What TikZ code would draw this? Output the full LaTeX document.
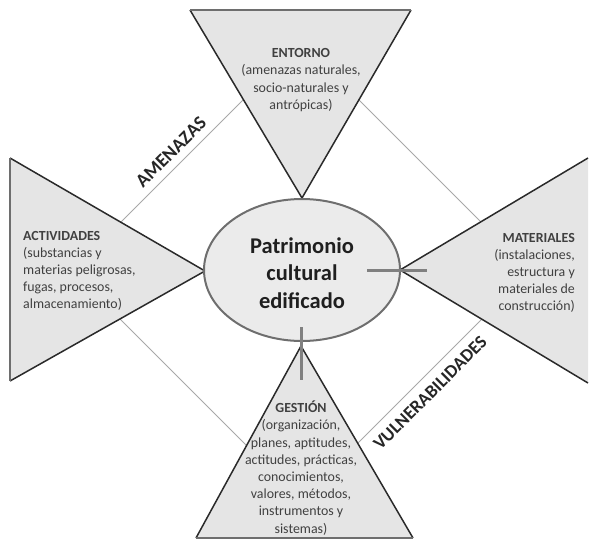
\documentclass[tikz,border=0pt]{standalone}
\usepackage{fontspec}
\setmainfont{Carlito}
\usetikzlibrary{shapes.geometric}
\definecolor{trifill}{HTML}{E5E5E5}
\definecolor{ellfill}{HTML}{EBEBEB}
\definecolor{triedge}{HTML}{2A2A2A}
\definecolor{elledge}{HTML}{6E6E6E}
\definecolor{tickcol}{HTML}{808080}
\definecolor{diacol}{HTML}{A8A8A8}
\definecolor{bodytext}{HTML}{404040}
\tikzset{
  body/.style={text=bodytext, font=\fontsize{13.9}{17.2}\selectfont, inner sep=0pt},
  axislabel/.style={text=black!85, font=\bfseries\fontsize{19}{22}\selectfont, rotate=45, inner sep=0pt},
  tickline/.style={draw=tickcol, line width=3pt},
  dia/.style={draw=diacol, line width=0.9pt},
  slant/.style={draw=triedge, line width=1.5pt},
  flat/.style={draw=elledge, line width=1.5pt}
}
\begin{document}
\begin{tikzpicture}[x=1pt,y=-1pt]
\useasboundingbox (0,0) rectangle (590,539);
% diamond of thin lines
\coordinate (dN) at (301,42);
\coordinate (dW) at (72,271);
\coordinate (dE) at (530,271);
\coordinate (dS) at (301,500);
\draw[dia] (dN) -- (dE) -- (dS) -- (dW) -- cycle;
% triangles
\coordinate (tA) at (190,10); \coordinate (tB) at (411,10); \coordinate (tC) at (302,198);
\coordinate (lA) at (10,158); \coordinate (lB) at (10,381); \coordinate (lC) at (205,271);
\coordinate (rA) at (588,158); \coordinate (rB) at (588,383); \coordinate (rC) at (400,270);
\coordinate (bA) at (301,346); \coordinate (bB) at (196,538); \coordinate (bC) at (413,538);
\fill[trifill] (tA) -- (tB) -- (tC) -- cycle;
\draw[slant] (tB) -- (tC) -- (tA);
\draw[flat] (tA) -- (tB);
\fill[trifill] (lA) -- (lB) -- (lC) -- cycle;
\draw[slant] (lB) -- (lC) -- (lA);
\draw[flat] (lA) -- (lB);
\fill[trifill] (rA) -- (rB) -- (rC) -- cycle;
\draw[slant] (rA) -- (rC) -- (rB);
\fill[trifill] (bA) -- (bB) -- (bC) -- cycle;
\draw[slant] (bB) -- (bA) -- (bC);
\draw[flat] (bB) -- (bC);
% ellipse
\node[ellipse, fill=ellfill, draw=elledge, line width=2pt, minimum width=196pt, minimum height=142pt, inner sep=0pt] (core) at (302,270) {};
\node[font=\bfseries\fontsize{22.5}{27.5}\selectfont, text=black!88, align=center, inner sep=0pt] (coretext) at (302,273) {Patrimonio\\cultural\\edificado};
% ticks
\coordinate (hA) at (367,270); \coordinate (hB) at (427,270);
\coordinate (vA) at (301,327); \coordinate (vB) at (301,380);
\draw[tickline] (hA) -- (hB);
\draw[tickline] (vA) -- (vB);
% texts
\node[body, align=center] (entorno) at (301,80) {\textbf{ENTORNO}\\(amenazas naturales,\\socio-naturales y\\antrópicas)};
\node[body, align=left, anchor=west] (actividades) at (23,271) {\textbf{ACTIVIDADES}\\(substancias y\\materias peligrosas,\\fugas, procesos,\\almacenamiento)};
\node[body, align=right, anchor=east] (materiales) at (575,273) {\textbf{MATERIALES}\\(instalaciones,\\estructura y\\materiales de\\construcción)};
\node[body, align=center] (gestion) at (301,468) {\textbf{GESTIÓN}\\(organización,\\planes, aptitudes,\\actitudes, prácticas,\\conocimientos,\\valores, métodos,\\instrumentos y\\sistemas)};
\node[axislabel] (amenazas) at (171,152) {AMENAZAS};
\node[axislabel, font=\bfseries\fontsize{18.3}{22}\selectfont] (vulnerab) at (430,393) {VULNERABILIDADES};
\end{tikzpicture}
\end{document}
